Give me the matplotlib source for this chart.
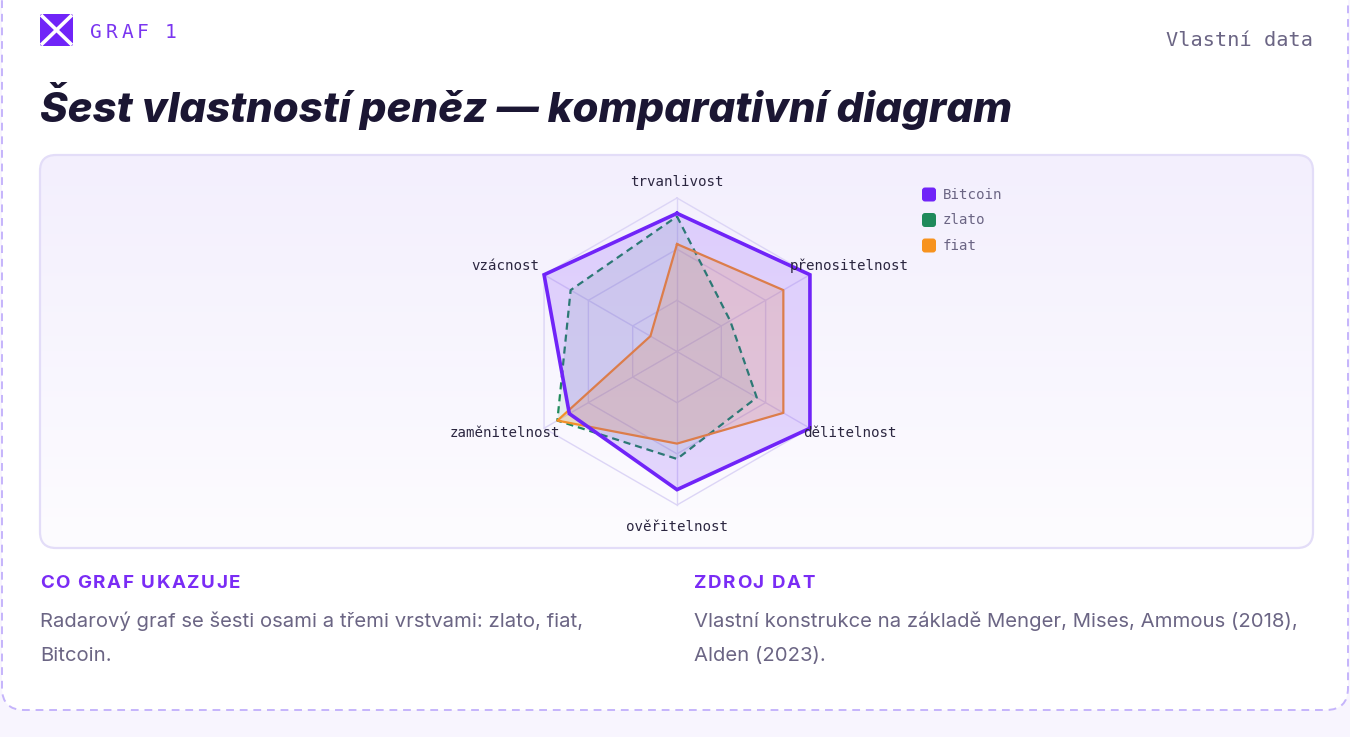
import numpy as np
import matplotlib
matplotlib.use('Agg')
import matplotlib.pyplot as plt
from matplotlib.patches import FancyBboxPatch
from matplotlib.colors import LinearSegmentedColormap

# ---------------- data ----------------
axis_labels = ['trvanlivost', 'přenositelnost', 'dělitelnost',
               'ověřitelnost', 'zaměnitelnost', 'vzácnost']
bitcoin = [9.0, 10.0, 10.0, 9.0, 8.1, 10.0]
zlato = [8.8, 4.0, 6.0, 7.0, 9.0, 8.0]
fiat = [7.0, 8.0, 8.0, 6.0, 9.0, 2.0]
series_names = ['Bitcoin', 'zlato', 'fiat']
scale_max = 10.0
grid_levels = [scale_max / 3, 2 * scale_max / 3, scale_max]

title = 'Šest vlastností peněz — komparativní diagram'
kicker = 'GRAF 1'
source_tag = 'Vlastní data'
h1 = 'CO GRAF UKAZUJE'
p1 = ['Radarový graf se šesti osami a třemi vrstvami: zlato, fiat,', 'Bitcoin.']
h2 = 'ZDROJ DAT'
p2 = ['Vlastní konstrukce na základě Menger, Mises, Ammous (2018),', 'Alden (2023).']

# ---------------- style ----------------
PURPLE = '#7024f8'
GREEN = '#1f8a5b'
ORANGE = '#f7931e'
DARK = '#1b1633'
GRAY = '#6b6584'
LABEL = '#2b2640'
MONO = 'DejaVu Sans Mono'
SANS = ['Inter', 'DejaVu Sans']

W, H = 1350, 737
fig = plt.figure(figsize=(W / 100, H / 100), dpi=100)
fig.patch.set_facecolor('#f8f5fe')
bg = fig.add_axes([0, 0, 1, 1])
bg.set_xlim(0, W)
bg.set_ylim(H, 0)
bg.axis('off')

# card
card = FancyBboxPatch((2, -40), 1346, 750,
                      boxstyle='round,pad=0,rounding_size=22',
                      facecolor='white', edgecolor='#c5b4fb', lw=1.4,
                      linestyle=(0, (4, 3)), zorder=1)
bg.add_patch(card)

# logo
logo = FancyBboxPatch((40, 14), 33, 32, boxstyle='round,pad=0,rounding_size=2',
                      facecolor=PURPLE, edgecolor='none', zorder=3)
bg.add_patch(logo)
bg.plot([41, 72], [15, 45], color='white', lw=2.6, zorder=4, solid_capstyle='butt')
bg.plot([41, 72], [45, 15], color='white', lw=2.6, zorder=4, solid_capstyle='butt')

renderer = fig.canvas.get_renderer()


def spaced(x, y, s, tracking, space_w, **kw):
    cx = x
    for ch in s:
        if ch == ' ':
            cx += space_w + tracking
            continue
        t = bg.text(cx, y, ch, **kw)
        w = t.get_window_extent(renderer).width
        cx += w + tracking


spaced(90, 32, kicker, 3.9, 8.4, fontsize=14, family=MONO, color='#7a35f0',
       va='center', ha='left', zorder=4)
bg.text(1313, 40, source_tag, fontsize=14.6, family=MONO, color=GRAY,
        va='center', ha='right', zorder=4)
bg.text(40, 106, title, fontsize=30.2, family=SANS, weight=800, style='italic',
        color=DARK, va='center', ha='left', zorder=4)

# chart panel with gradient
panel = FancyBboxPatch((40, 155), 1273, 393, boxstyle='round,pad=0,rounding_size=16',
                       facecolor='none', edgecolor='#e3ddf8', lw=1.6, zorder=3)
bg.add_patch(panel)
grad = np.linspace(0, 1, 256).reshape(-1, 1)
cmap = LinearSegmentedColormap.from_list('g', ['#f3effd', '#fdfcff'])
im = bg.imshow(grad, extent=[40, 1313, 548, 155], cmap=cmap, aspect='auto', zorder=2)
clip = FancyBboxPatch((40, 155), 1273, 393, boxstyle='round,pad=0,rounding_size=16',
                      facecolor='none', edgecolor='none', transform=bg.transData)
im.set_clip_path(clip)
bg.set_xlim(0, W)
bg.set_ylim(H, 0)

# legend
leg_colors = [PURPLE, GREEN, ORANGE]
for i, (name, c) in enumerate(zip(series_names, leg_colors)):
    yy = 194.5 + i * 25.5
    bg.add_patch(FancyBboxPatch((922, yy - 7), 14, 14, boxstyle='round,pad=0,rounding_size=3',
                                facecolor=c, edgecolor='none', zorder=4))
    bg.text(943, yy, name, fontsize=10.2, family=MONO, color=GRAY, va='center',
            ha='left', zorder=4)

# footer
spaced(40, 584, h1, 1.5, 4.8, fontsize=13.5, family=SANS, weight='bold', color='#7a2cf5',
       va='center', ha='left', zorder=4)
spaced(694, 584, h2, 1.5, 4.8, fontsize=13.5, family=SANS, weight='bold', color='#7a2cf5',
       va='center', ha='left', zorder=4)
for i, line in enumerate(p1):
    bg.text(40, 621 + i * 35, line, fontsize=14.6, family=SANS, color=GRAY,
            va='center', ha='left', zorder=4)
for i, line in enumerate(p2):
    bg.text(694, 621 + i * 35, line, fontsize=14.6, family=SANS, color=GRAY,
            va='center', ha='left', zorder=4)

# ---------------- radar ----------------
CX, CY, RPX = 677, 351.5, 153.5
k = RPX / scale_max
hw, hh = 240, 205
ax = fig.add_axes([(CX - hw) / W, (H - CY - hh) / H, 2 * hw / W, 2 * hh / H])
ax.set_xlim(-hw / k, hw / k)
ax.set_ylim(-hh / k, hh / k)
ax.axis('off')
ax.patch.set_alpha(0)
ax.set_zorder(5)

n = len(axis_labels)
theta = np.deg2rad(90 - 60 * np.arange(n))
ct, st = np.cos(theta), np.sin(theta)


def poly(vals):
    v = np.asarray(vals, dtype=float)
    x = v * ct
    y = v * st
    return np.append(x, x[0]), np.append(y, y[0])

grid_c = '#dcd5f6'
for lev in grid_levels:
    gx, gy = poly([lev] * n)
    ax.plot(gx, gy, color=grid_c, lw=1.0, zorder=1)
for i in range(n):
    ax.plot([0, scale_max * ct[i]], [0, scale_max * st[i]], color=grid_c, lw=1.0, zorder=1)

# zlato
x, y = poly(zlato)
ax.fill(x, y, color=GREEN, alpha=0.10, lw=0, zorder=2)
ax.plot(x, y, color=GREEN, lw=1.6, linestyle=(0, (3.2, 2.2)), zorder=3)
# fiat
x, y = poly(fiat)
ax.fill(x, y, color=ORANGE, alpha=0.20, lw=0, zorder=2)
ax.plot(x, y, color='#f39028', lw=1.6, zorder=3)
# bitcoin
x, y = poly(bitcoin)
ax.fill(x, y, color=PURPLE, alpha=0.17, lw=0, zorder=4)
ax.plot(x, y, color=PURPLE, lw=2.6, zorder=5, solid_joinstyle='miter')

label_offsets = [(0, 16), (39, 8.7), (39.5, -4.7), (0, -22), (-39, -4.7), (-39, 8.7)]
for i, lab in enumerate(axis_labels):
    ax.annotate(lab, (scale_max * ct[i], scale_max * st[i]), xytext=label_offsets[i],
                textcoords='offset pixels', ha='center', va='center',
                fontsize=10.2, family=MONO, color=LABEL, zorder=6)

fig.savefig('out.png', dpi=100, facecolor=fig.get_facecolor())
